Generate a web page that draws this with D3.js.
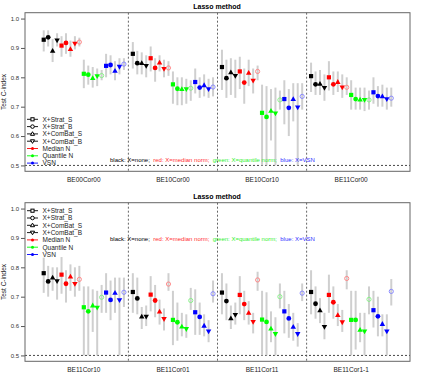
<!DOCTYPE html>
<html lang="en">
<head>
<meta charset="UTF-8">
<title>Lasso method</title>
<script src="https://d3js.org/d3.v7.min.js"></script>
<style>
    body { margin: 0; background: #fff; font-family: "Liberation Sans", Arial, sans-serif; }
    svg text { font-family: "Liberation Sans", Arial, sans-serif; }
</style>
</head>
<body>
<svg id="chart" width="423" height="381"></svg>
<script>
// ---- data ----
const topGroups = ["BE00Cor00", "BE10Cor00", "BE10Cor10", "BE11Cor00"];
const bottomGroups = ["BE11Cor10", "BE11Cor01", "BE11Cor11", "BE11Cor1-1"];

// 19 series per group: black x4, red x4 + open, green x4 + open, blue x4 + open
const topMean = [
    [0.928, 0.936, 0.890, 0.926, 0.908, 0.917, 0.896, 0.915, 0.920, 0.812, 0.809, 0.797, 0.804, 0.806, 0.839, 0.842, 0.822, 0.836, 0.845],
    [0.880, 0.848, 0.848, 0.839, 0.865, 0.832, 0.850, 0.829, 0.832, 0.776, 0.761, 0.760, 0.760, 0.763, 0.784, 0.765, 0.773, 0.760, 0.767],
    [0.835, 0.797, 0.817, 0.805, 0.820, 0.782, 0.815, 0.789, 0.820, 0.679, 0.665, 0.686, 0.677, 0.723, 0.726, 0.696, 0.726, 0.698, 0.735],
    [0.804, 0.776, 0.778, 0.764, 0.800, 0.776, 0.784, 0.766, 0.766, 0.740, 0.726, 0.724, 0.723, 0.723, 0.749, 0.736, 0.735, 0.726, 0.729]
];
const topLow = [
    [0.888, 0.905, 0.852, 0.905, 0.870, 0.880, 0.870, 0.895, 0.905, 0.763, 0.775, 0.765, 0.770, 0.790, 0.800, 0.810, 0.790, 0.810, 0.825],
    [0.830, 0.810, 0.810, 0.800, 0.820, 0.785, 0.820, 0.800, 0.805, 0.710, 0.705, 0.705, 0.710, 0.720, 0.745, 0.730, 0.735, 0.730, 0.735],
    [0.757, 0.730, 0.740, 0.730, 0.760, 0.710, 0.770, 0.745, 0.790, 0.500, 0.500, 0.585, 0.500, 0.690, 0.640, 0.600, 0.650, 0.500, 0.690],
    [0.750, 0.740, 0.740, 0.720, 0.755, 0.740, 0.750, 0.730, 0.740, 0.690, 0.690, 0.690, 0.685, 0.690, 0.710, 0.700, 0.700, 0.690, 0.700]
];
const topHigh = [
    [0.960, 0.960, 0.930, 0.950, 0.940, 0.950, 0.925, 0.940, 0.935, 0.860, 0.840, 0.835, 0.830, 0.825, 0.880, 0.875, 0.855, 0.865, 0.865],
    [0.920, 0.890, 0.885, 0.875, 0.905, 0.865, 0.875, 0.860, 0.855, 0.820, 0.800, 0.800, 0.795, 0.790, 0.830, 0.800, 0.810, 0.795, 0.800],
    [0.894, 0.860, 0.865, 0.860, 0.870, 0.830, 0.860, 0.830, 0.840, 0.775, 0.770, 0.760, 0.765, 0.755, 0.790, 0.760, 0.780, 0.780, 0.780],
    [0.850, 0.820, 0.825, 0.810, 0.855, 0.820, 0.820, 0.810, 0.800, 0.790, 0.765, 0.765, 0.765, 0.755, 0.800, 0.770, 0.775, 0.765, 0.765]
];

const bottomMean = [
    [0.780, 0.752, 0.765, 0.753, 0.775, 0.744, 0.768, 0.744, 0.759, 0.664, 0.650, 0.670, 0.663, 0.698, 0.714, 0.689, 0.713, 0.688, 0.715],
    [0.716, 0.694, 0.632, 0.632, 0.707, 0.687, 0.649, 0.624, 0.743, 0.621, 0.613, 0.598, 0.590, 0.687, 0.647, 0.631, 0.601, 0.582, 0.710],
    [0.714, 0.685, 0.626, 0.638, 0.706, 0.675, 0.645, 0.614, 0.757, 0.622, 0.614, 0.591, 0.573, 0.700, 0.650, 0.626, 0.597, 0.573, 0.712],
    [0.716, 0.676, 0.653, 0.597, 0.706, 0.681, 0.637, 0.613, 0.762, 0.621, 0.621, 0.587, 0.582, 0.691, 0.654, 0.633, 0.607, 0.582, 0.718]
];
const bottomLow = [
    [0.713, 0.700, 0.720, 0.690, 0.710, 0.680, 0.720, 0.700, 0.720, 0.500, 0.500, 0.580, 0.500, 0.645, 0.645, 0.620, 0.645, 0.500, 0.665],
    [0.645, 0.640, 0.590, 0.600, 0.650, 0.630, 0.605, 0.585, 0.720, 0.535, 0.550, 0.565, 0.560, 0.655, 0.570, 0.570, 0.565, 0.545, 0.680],
    [0.640, 0.620, 0.590, 0.605, 0.640, 0.620, 0.605, 0.575, 0.720, 0.500, 0.500, 0.545, 0.500, 0.660, 0.575, 0.560, 0.550, 0.530, 0.685],
    [0.640, 0.625, 0.610, 0.555, 0.645, 0.625, 0.600, 0.580, 0.725, 0.500, 0.520, 0.545, 0.500, 0.640, 0.595, 0.565, 0.565, 0.500, 0.670]
];
const bottomHigh = [
    [0.833, 0.805, 0.800, 0.800, 0.835, 0.790, 0.810, 0.800, 0.805, 0.735, 0.735, 0.725, 0.720, 0.740, 0.780, 0.755, 0.765, 0.765, 0.765],
    [0.780, 0.765, 0.665, 0.670, 0.770, 0.740, 0.690, 0.660, 0.780, 0.720, 0.680, 0.645, 0.640, 0.730, 0.725, 0.680, 0.640, 0.620, 0.755],
    [0.780, 0.745, 0.670, 0.680, 0.770, 0.720, 0.685, 0.645, 0.785, 0.720, 0.715, 0.650, 0.630, 0.745, 0.720, 0.675, 0.645, 0.610, 0.745],
    [0.790, 0.735, 0.695, 0.645, 0.775, 0.735, 0.675, 0.655, 0.790, 0.720, 0.720, 0.645, 0.645, 0.735, 0.720, 0.700, 0.640, 0.640, 0.760]
];

const yTicks = [0.5, 0.6, 0.7, 0.8, 0.9, 1.0];
const legendLabels = ["X+Strat_S", "X+Strat_B", "X+ComBat_S", "X+ComBat_B", "Median N", "Quantile N", "VSN"];
const noteParts = ["black: X=none;", "red: X=median norm;", "green: X=quantile norm;", "blue: X=VSN"];

// ---- styling ----
const baseColors = ["#000000", "#ff0000", "#00ff00", "#0000ff"];
const openColors = ["#000000", "#ff8080", "#80f080", "#8080ff"];
const noteColors = ["#000000", "#ff3030", "#30f030", "#3030ff"];
const shapes = ["square", "circle", "triangle", "invtriangle", "open"];

const svg = d3.select("#chart");
const box = { left: 25, right: 410, h: 158.6 };

const x = d3.scaleLinear().domain([-3.2, 83.2]).range([box.left, box.right]);

function seriesStyle(j) {
    if (j < 4) return { color: baseColors[0], shape: shapes[j] };
    const k = j - 4;
    const c = 1 + Math.floor(k / 5);
    const s = k % 5;
    return { color: s === 4 ? openColors[c] : baseColors[c], shape: shapes[s] };
}

function drawMarker(g, shape, cx, cy, color, legend) {
    const k = legend ? 0.75 : 1;
    const fill = legend ? "#fff" : color;
    const stroke = legend ? color : "none";
    if (shape === "square") {
        const s = 4.2 * k;
        g.append("rect").attr("x", cx - s / 2).attr("y", cy - s / 2).attr("width", s).attr("height", s)
            .attr("fill", fill).attr("stroke", stroke).attr("stroke-width", 1);
    } else if (shape === "circle") {
        g.append("circle").attr("cx", cx).attr("cy", cy).attr("r", 2.4 * k)
            .attr("fill", fill).attr("stroke", stroke).attr("stroke-width", 1);
    } else if (shape === "triangle" || shape === "invtriangle") {
        const r = 2.9 * k, d = shape === "triangle" ? 1 : -1;
        const pts = [[cx, cy - d * r], [cx - r * 0.95, cy + d * r * 0.65], [cx + r * 0.95, cy + d * r * 0.65]];
        g.append("polygon").attr("points", pts.map(p => p.join(",")).join(" "))
            .attr("fill", fill).attr("stroke", stroke).attr("stroke-width", 1);
    } else if (shape === "open") {
        g.append("circle").attr("cx", cx).attr("cy", cy).attr("r", 2.1)
            .attr("fill", "none").attr("stroke", color).attr("stroke-width", 0.9);
    } else if (shape === "dot") {
        g.append("circle").attr("cx", cx).attr("cy", cy).attr("r", 1.5).attr("fill", color);
    }
}

function drawPanel(top, groups, mean, low, high, legendTop, noteY) {
    const g = svg.append("g");
    const boxTop = top + 12.7;
    const boxBottom = boxTop + box.h;
    const y = d3.scaleLinear().domain([0.48, 1.02]).range([boxBottom, boxTop]);

    // title
    g.append("text").attr("x", 217).attr("y", top + 8.5).attr("text-anchor", "middle")
        .attr("font-size", 7).attr("font-weight", "bold").text("Lasso method");

    // y axis
    const yAxis = g.append("g").attr("transform", `translate(${box.left},0)`)
        .call(d3.axisLeft(y).tickValues(yTicks).tickFormat(d3.format(".1f")).tickSize(4).tickPadding(2));
    yAxis.select(".domain").remove();
    yAxis.selectAll("line").attr("stroke", "#555");
    yAxis.selectAll("text").attr("font-size", 6).attr("fill", "#333").attr("font-family", "Liberation Sans, Arial");

    g.append("text").attr("transform", `translate(6,${(boxTop + boxBottom) / 2}) rotate(-90)`)
        .attr("text-anchor", "middle").attr("font-size", 6.5).attr("fill", "#222").text("Test C-index");

    // reference line at 0.5
    g.append("line").attr("x1", box.left).attr("x2", box.right).attr("y1", y(0.5)).attr("y2", y(0.5))
        .attr("stroke", "#333").attr("stroke-dasharray", "2,2").attr("stroke-width", 0.9);

    // group separators
    [20, 40, 60].forEach(p => {
        g.append("line").attr("x1", x(p)).attr("x2", x(p)).attr("y1", boxTop).attr("y2", boxBottom)
            .attr("stroke", "#555").attr("stroke-dasharray", "2,2").attr("stroke-width", 0.9);
    });

    // error bars
    groups.forEach((name, gi) => {
        mean[gi].forEach((v, j) => {
            const px = x(gi * 20 + j + 1);
            g.append("line").attr("x1", px).attr("x2", px)
                .attr("y1", y(low[gi][j])).attr("y2", y(high[gi][j]))
                .attr("stroke", "#cfcfcf").attr("stroke-width", 2);
        });
    });
    // markers
    groups.forEach((name, gi) => {
        mean[gi].forEach((v, j) => {
            const st = seriesStyle(j);
            drawMarker(g, st.shape, x(gi * 20 + j + 1), y(v), st.color, false);
        });
        g.append("text").attr("x", x(gi * 20 + 10)).attr("y", boxBottom + 11)
            .attr("text-anchor", "middle").attr("font-size", 6.5).attr("fill", "#222").text(name);
    });

    // legend
    legendLabels.forEach((lab, i) => {
        const ly = legendTop + i * 7.3;
        const col = i < 4 ? "#000" : baseColors[i - 3];
        g.append("line").attr("x1", 27).attr("x2", 38).attr("y1", ly).attr("y2", ly)
            .attr("stroke", col).attr("stroke-width", 0.9);
        if (i < 4) drawMarker(g, shapes[i], 32.5, ly, "#000", true);
        else drawMarker(g, "dot", 32.5, ly, col, true);
        g.append("text").attr("x", 42.5).attr("y", ly + 2.3).attr("font-size", 6.5)
            .attr("fill", "#222").text(lab);
    });

    // colour note
    const note = g.append("text").attr("x", 110).attr("y", noteY + 2.2).attr("font-size", 6);
    noteParts.forEach((t, i) => {
        note.append("tspan").attr("fill", noteColors[i]).text(t + (i < 3 ? "\u00a0\u00a0" : ""));
    });

    // plot box
    g.append("rect").attr("x", box.left).attr("y", boxTop).attr("width", box.right - box.left)
        .attr("height", box.h).attr("fill", "none").attr("stroke", "#666").attr("stroke-width", 1);
}

drawPanel(0, topGroups, topMean, topLow, topHigh, 119.3, 159.3);
drawPanel(190, bottomGroups, bottomMean, bottomLow, bottomHigh, 210.7, 238.3);
</script>
</body>
</html>
